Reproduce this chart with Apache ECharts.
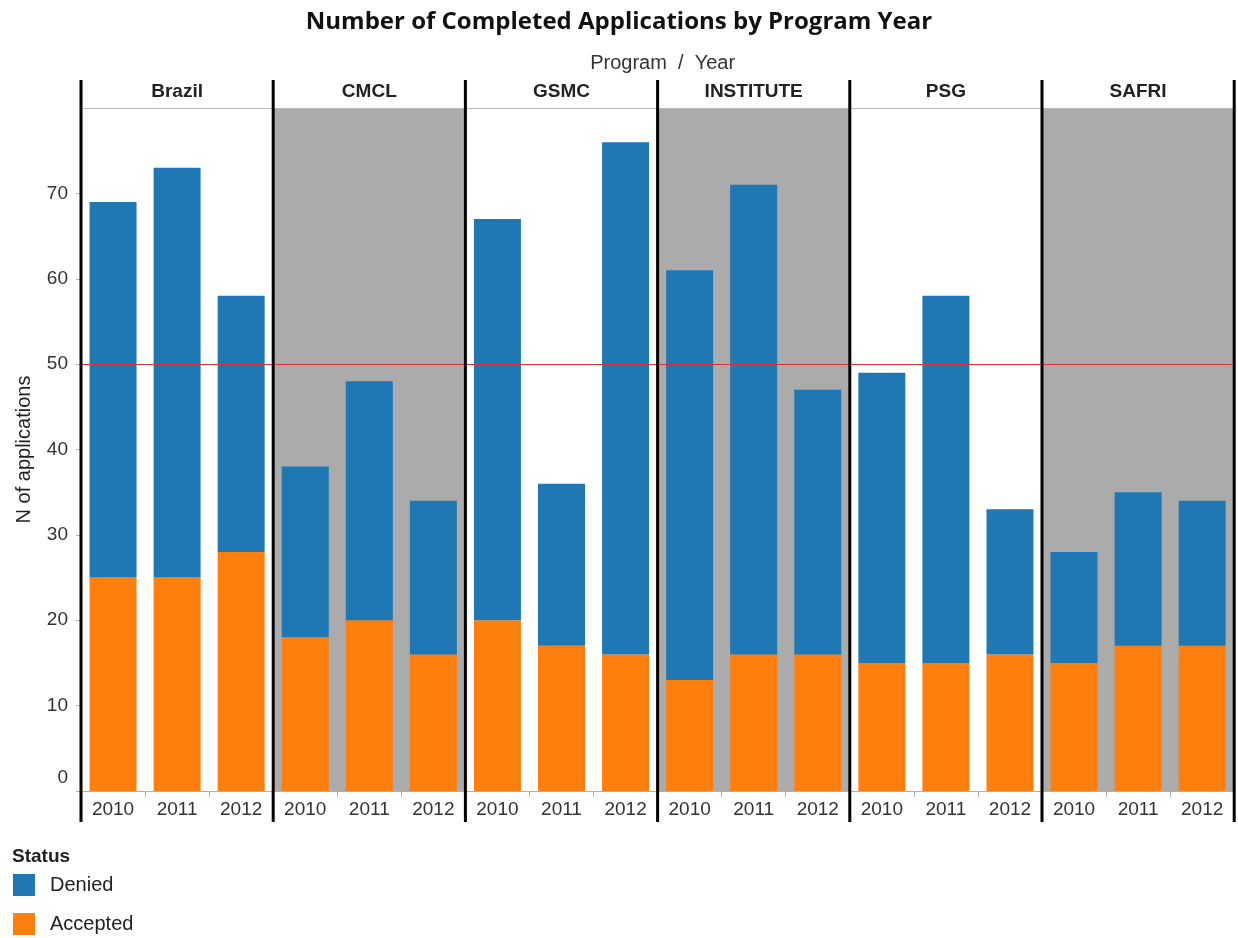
<!DOCTYPE html>
<html>
<head>
<meta charset="utf-8">
<script src="https://cdn.jsdelivr.net/npm/echarts@6/dist/echarts.min.js"></script>
<style>
  html, body { margin: 0; padding: 0; background: #fff; }
  #main { width: 1238px; height: 938px; }
</style>
</head>
<body>
<div id="main"></div>
<script>
// data
var programs = ['Brazil', 'CMCL', 'GSMC', 'INSTITUTE', 'PSG', 'SAFRI'];
var years = ['2010', '2011', '2012'];
var accepted = [
  [25, 25, 28],
  [18, 20, 16],
  [20, 17, 16],
  [13, 16, 16],
  [15, 15, 16],
  [15, 17, 17]
];
var denied = [
  [44, 48, 30],
  [20, 28, 18],
  [47, 19, 60],
  [48, 55, 31],
  [34, 43, 17],
  [13, 18, 17]
];
var yTicks = [0, 10, 20, 30, 40, 50, 60, 70];
var refValue = 50;

// layout
var plotLeft = 81;
var plotTop = 108;
var plotH = 683;
var panelW = 192.2;
var font = 'Liberation Sans, Arial, sans-serif';
var blue = '#1f77b4';
var orange = '#ff7f0e';

var grids = [], xAxes = [], yAxes = [], series = [], graphics = [];

programs.forEach(function (p, i) {
  grids.push({
    left: plotLeft + i * panelW,
    top: plotTop,
    width: panelW,
    height: plotH,
    show: true,
    borderWidth: 0,
    backgroundColor: i % 2 === 1 ? '#ababab' : '#ffffff'
  });
  // years at bottom
  xAxes.push({
    type: 'category',
    gridIndex: i,
    data: years,
    position: 'bottom',
    axisLine: { show: true, lineStyle: { color: '#b0b0b0', width: 1 } },
    axisTick: { show: true, length: 6, lineStyle: { color: '#b0b0b0' } },
    axisLabel: { color: '#333', fontSize: 19, fontFamily: font, margin: 9 }
  });
  // program header on top
  xAxes.push({
    type: 'category',
    gridIndex: i,
    data: [p],
    position: 'top',
    axisLine: { show: true, lineStyle: { color: '#b8b8b8', width: 1 } },
    axisTick: { show: false },
    axisLabel: {
      color: '#222', fontSize: 19, fontWeight: 'bold',
      fontFamily: font, margin: 7
    }
  });
  yAxes.push({
    type: 'value',
    gridIndex: i,
    min: 0,
    max: 80,
    interval: 10,
    show: i === 0,
    name: i === 0 ? 'N of applications' : '',
    nameLocation: 'middle',
    nameGap: 47,
    nameTextStyle: { color: '#222', fontSize: 20, fontFamily: font },
    axisLine: { show: false },
    axisTick: { show: true, length: 5, customValues: yTicks, lineStyle: { color: '#b0b0b0' } },
    splitLine: { show: false },
    axisLabel: {
      color: '#333', fontSize: 19, fontFamily: font, margin: 13,
      customValues: yTicks,
      formatter: function (v) {
        if (v === 0) return '{z|0}';
        return String(v);
      },
      rich: { z: { fontSize: 19, fontFamily: font, color: '#333', padding: [0, 0, 26, 0] } }
    }
  });
  series.push({
    name: 'Accepted',
    type: 'bar',
    xAxisIndex: i * 2,
    yAxisIndex: i,
    stack: 'p' + i,
    barWidth: 47,
    itemStyle: { color: orange },
    data: accepted[i]
  });
  series.push({
    name: 'Denied',
    type: 'bar',
    xAxisIndex: i * 2,
    yAxisIndex: i,
    stack: 'p' + i,
    barWidth: 47,
    itemStyle: { color: blue },
    data: denied[i],
    markLine: {
      silent: true,
      symbol: 'none',
      label: { show: false },
      lineStyle: { color: '#d9343a', width: 1, type: 'solid' },
      data: [{ yAxis: refValue }]
    }
  });
});

// black panel separators
for (var k = 0; k <= programs.length; k++) {
  graphics.push({
    type: 'line',
    z: 100,
    shape: { x1: plotLeft + k * panelW, y1: 80, x2: plotLeft + k * panelW, y2: 822 },
    style: { stroke: '#000', lineWidth: 3 }
  });
}
graphics.push({
  type: 'text',
  left: 12,
  top: 847,
  style: { text: 'Status', fontSize: 19, fontWeight: 'bold', fontFamily: font, fill: '#222' }
});

var chart = echarts.init(document.getElementById('main'));
chart.setOption({
  backgroundColor: '#fff',
  animation: false,
  title: [
    {
      text: 'Number of Completed Applications by Program Year',
      left: 'center',
      top: 5,
      textStyle: { fontSize: 24, fontWeight: 'bold', fontFamily: 'Open Sans, sans-serif', color: '#111' }
    },
    {
      text: 'Program  /  Year',
      left: plotLeft + 3 * panelW,
      textAlign: 'center',
      top: 48,
      textStyle: { fontSize: 20, fontWeight: 'normal', fontFamily: font, color: '#333' }
    }
  ],
  legend: {
    orient: 'vertical',
    left: 13,
    top: 874,
    padding: 0,
    icon: 'rect',
    itemWidth: 22,
    itemHeight: 22,
    itemGap: 17,
    data: ['Denied', 'Accepted'],
    textStyle: { fontSize: 20, fontFamily: font, color: '#222', padding: [0, 0, 0, 10] }
  },
  grid: grids,
  xAxis: xAxes,
  yAxis: yAxes,
  series: series,
  graphic: graphics
});
</script>
</body>
</html>
